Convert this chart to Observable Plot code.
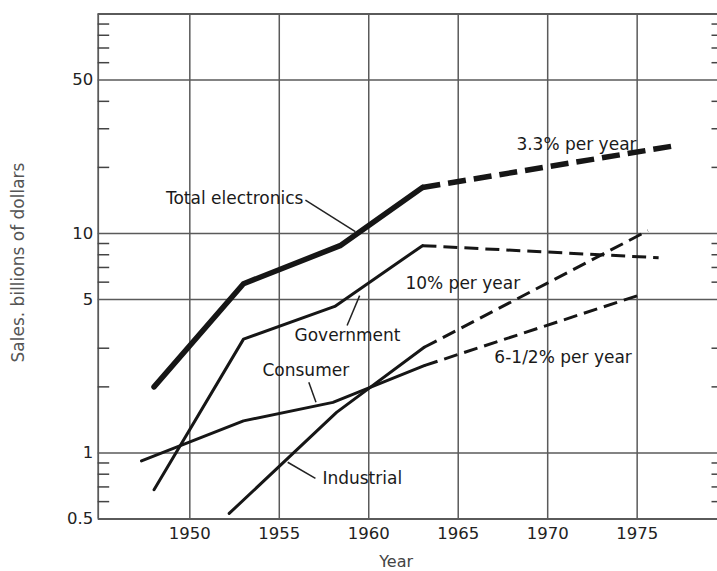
<!DOCTYPE html>
<html>
<head>
<meta charset="utf-8">
<script src="https://cdn.jsdelivr.net/npm/d3@7"></script>
<script src="https://cdn.jsdelivr.net/npm/@observablehq/plot@0.6"></script>
<style>
  html, body { margin: 0; padding: 0; background: #fff; }
  #chart svg { display: block; }
</style>
</head>
<body>
<div id="chart"></div>
<script>
// ---- Data ----
const seriesNames = ["Total electronics", "Government", "Consumer", "Industrial"];

// Historical (solid) segments
const totalYears = [1948, 1953, 1958.4, 1963];
const totalSales = [2.0, 5.9, 8.8, 16.2];
const govYears = [1948, 1953, 1958.1, 1963];
const govSales = [0.68, 3.3, 4.65, 8.8];
const consYears = [1947.3, 1953, 1958, 1963.1];
const consSales = [0.92, 1.40, 1.70, 2.5];
const indYears = [1952.2, 1958.2, 1963.1];
const indSales = [0.53, 1.53, 3.03];

// Projections (dashed)
const totalProjYears = [1963, 1977.1];
const totalProjSales = [16.2, 25.1];
const govProjYears = [1963, 1976.2];
const govProjSales = [8.8, 7.75];
const consProjYears = [1963.1, 1975];
const consProjSales = [2.5, 5.2];
const indProjYears = [1963.1, 1975.6];
const indProjSales = [3.03, 10.3];

// Axes
const xTickYears = [1950, 1955, 1960, 1965, 1970, 1975];
const yTickLabels = [0.5, 1, 5, 10, 50];
const yGridValues = [1, 5, 10, 50];
const yMinorTicks = [0.6, 0.7, 0.8, 0.9, 2, 3, 6, 7, 8, 9, 20, 30, 40, 60, 70, 80, 90];

// Annotations (data coordinates)
const labelTexts = ["Total electronics", "3.3% per year", "10% per year", "Government", "Consumer", "Industrial", "6-1/2% per year"];
const labelYears = [1956.35, 1968.25, 1962.05, 1955.85, 1954.06, 1957.41, 1967.02];
const labelSales = [14.35, 25.5, 5.91, 3.43, 2.37, 0.764, 2.73];
const labelAnchors = ["end", "start", "start", "start", "start", "start", "start"];

const leaderFromYears = [1956.46, 1958.79, 1956.65, 1957.02];
const leaderFromSales = [14.2, 3.81, 2.10, 0.765];
const leaderToYears = [1959.25, 1959.49, 1957.05, 1955.47];
const leaderToSales = [10.2, 5.21, 1.70, 0.907];

// ---- Build tables ----
function rows(name, years, sales) { return years.map((x, i) => ({series: name, year: x, sales: sales[i]})); }
const totalSolid = rows(seriesNames[0], totalYears, totalSales);
const otherSolid = [
  ...rows(seriesNames[1], govYears, govSales),
  ...rows(seriesNames[2], consYears, consSales),
  ...rows(seriesNames[3], indYears, indSales)
];
const totalDash = rows(seriesNames[0], totalProjYears, totalProjSales);
const otherDash = [
  ...rows(seriesNames[1], govProjYears, govProjSales),
  ...rows(seriesNames[2], consProjYears, consProjSales),
  ...rows(seriesNames[3], indProjYears, indProjSales)
];
const labels = labelTexts.map((t, i) => ({text: t, year: labelYears[i], sales: labelSales[i], anchor: labelAnchors[i]}));
const leaders = leaderFromYears.map((x, i) => ({x1: x, y1: leaderFromSales[i], x2: leaderToYears[i], y2: leaderToSales[i]}));

const W = 717, H = 571;
const mL = 97.7, mR = 0, mT = 13.5, mB = 52.5;
const xDomain = [1944.88, 1979.49];
const yDomain = [0.5, 100];
const innerW = W - mL - mR;

const grid = "#5a5a5a";
const ink = "#161616";

const chart = Plot.plot({
  width: W,
  height: H,
  marginLeft: mL,
  marginRight: mR,
  marginTop: mT,
  marginBottom: mB,
  x: {domain: xDomain},
  y: {type: "log", domain: yDomain},
  style: {fontFamily: "'DejaVu Sans', sans-serif", fontSize: "16.5px", color: "#222", background: "#fff", overflow: "visible"},
  marks: [
    // grid & frame
    Plot.ruleX(xTickYears, {stroke: grid, strokeWidth: 1.5}),
    Plot.ruleY(yGridValues, {stroke: grid, strokeWidth: 1.5}),
    Plot.ruleY([yDomain[0], yDomain[1]], {stroke: grid, strokeWidth: 1.8}),
    Plot.ruleX([xDomain[0]], {stroke: grid, strokeWidth: 1.8}),
    // minor ticks, left (inward) and right
    Plot.ruleY(yMinorTicks, {stroke: "#444", strokeWidth: 1.5, insetRight: innerW - 11.5}),
    Plot.ruleY(yMinorTicks, {stroke: "#444", strokeWidth: 1.5, insetLeft: innerW - 5.5}),
    // axes
    Plot.axisX(xTickYears, {tickSize: 0, tickPadding: 8, tickFormat: d => String(d), label: null, fontSize: 16.5, fill: "#222"}),
    Plot.axisY(yTickLabels, {tickSize: 0, tickPadding: 5, tickFormat: d => String(d), label: null, fontSize: 16.5, fill: "#222"}),
    Plot.text(["Year"], {frameAnchor: "bottom", textAnchor: "middle", lineAnchor: "middle", dx: -11.7, dy: 43, fontSize: 16, fill: "#444"}),
    Plot.text(["Sales. billions of dollars"], {frameAnchor: "left", textAnchor: "middle", lineAnchor: "middle", rotate: -90, dx: -79.4, dy: -4, fontSize: 17, fill: "#555"}),
    // data lines
    Plot.line(otherSolid, {x: "year", y: "sales", z: "series", stroke: ink, strokeWidth: 3, strokeLinejoin: "round", strokeLinecap: "round"}),
    Plot.line(otherDash, {x: "year", y: "sales", z: "series", stroke: ink, strokeWidth: 3, strokeDasharray: "14,7", strokeLinecap: "butt"}),
    Plot.line(totalSolid, {x: "year", y: "sales", z: "series", stroke: ink, strokeWidth: 5.5, strokeLinejoin: "round", strokeLinecap: "round"}),
    Plot.line(totalDash, {x: "year", y: "sales", z: "series", stroke: ink, strokeWidth: 5.5, strokeDasharray: "18,8", strokeLinecap: "butt"}),
    // leaders & labels
    Plot.link(leaders, {x1: "x1", y1: "y1", x2: "x2", y2: "y2", stroke: "#222", strokeWidth: 1.5}),
    Plot.text(labels, {x: "year", y: "sales", text: "text", textAnchor: "start", filter: d => d.anchor === "start", fontSize: 17, fill: "#1a1a1a"}),
    Plot.text(labels, {x: "year", y: "sales", text: "text", textAnchor: "end", filter: d => d.anchor === "end", fontSize: 17, fill: "#1a1a1a"})
  ]
});

document.getElementById("chart").appendChild(chart);
</script>
</body>
</html>
